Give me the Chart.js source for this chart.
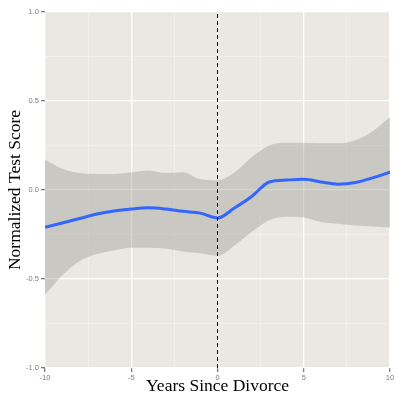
<!DOCTYPE html>
<html>
<head>
<meta charset="utf-8">
<script src="https://cdn.jsdelivr.net/npm/chart.js@4.4.1/dist/chart.umd.min.js"></script>
<style>
  body { margin: 0; background: #ffffff; }
  #wrap { width: 394px; height: 395px; }
</style>
</head>
<body>
<div id="wrap"><canvas id="chart" width="394" height="395"></canvas></div>
<script>
// years relative to divorce
const years = [-10, -9, -8, -7, -6, -5, -4, -3, -2, -1, 0, 1, 2, 3, 4, 5, 6, 7, 8, 9, 10];
// smoothed fit
const fitScore = [-0.21, -0.185, -0.16, -0.135, -0.118, -0.107, -0.10, -0.107, -0.12, -0.13, -0.157,
    -0.10, -0.035, 0.045, 0.056, 0.06, 0.045, 0.033, 0.042, 0.068, 0.10];
// confidence band
const upperBand = [0.17, 0.12, 0.095, 0.09, 0.09, 0.10, 0.11, 0.095, 0.10, 0.06, 0.055,
    0.10, 0.185, 0.25, 0.265, 0.265, 0.262, 0.262, 0.28, 0.33, 0.41];
const lowerBand = [-0.59, -0.48, -0.40, -0.36, -0.34, -0.325, -0.325, -0.33, -0.345, -0.355, -0.37,
    -0.31, -0.235, -0.17, -0.15, -0.155, -0.18, -0.19, -0.20, -0.205, -0.21];
// divorce marker
const divorceYear = 0;
const xTicks = [-10, -5, 0, 5, 10];
const yTicks = [-1.0, -0.5, 0.0, 0.5, 1.0];

const ctx = document.getElementById('chart');

function toPoints(ys) {
    return years.map((x, i) => ({ x: x, y: ys[i] }));
}

function isMajor(list, v) {
    return list.some(t => Math.abs(t - v) < 1e-9);
}

// grey panel behind the plot like ggplot
const panelBg = {
    id: 'panelBg',
    beforeDraw(chart) {
        const a = chart.chartArea;
        const c = chart.ctx;
        c.save();
        c.fillStyle = '#eae8e1';
        c.fillRect(a.left, a.top, a.right - a.left, a.bottom - a.top);
        c.restore();
    }
};

const tickFont = { family: 'Liberation Sans', size: 7.5 };
const titleFont = { family: 'Liberation Serif', size: 17.5, lineHeight: 1 };

new Chart(ctx, {
    type: 'line',
    data: {
        datasets: [{
            label: 'divorce',
            data: [{ x: divorceYear, y: -1 }, { x: divorceYear, y: 1 }],
            borderColor: '#000000',
            borderWidth: 1,
            borderDash: [4, 3],
            pointRadius: 0,
            order: 0
        },
        {
            label: 'fit',
            data: toPoints(fitScore),
            borderColor: '#3366ff',
            borderWidth: 3,
            pointRadius: 0,
            cubicInterpolationMode: 'monotone',
            order: 1
        },
        {
            label: 'upper',
            data: toPoints(upperBand),
            borderWidth: 0,
            pointRadius: 0,
            cubicInterpolationMode: 'monotone',
            backgroundColor: 'rgba(153,153,150,0.4)',
            fill: '+1',
            order: 2
        },
        {
            label: 'lower',
            data: toPoints(lowerBand),
            borderWidth: 0,
            pointRadius: 0,
            cubicInterpolationMode: 'monotone',
            fill: false,
            order: 3
        }]
    },
    options: {
        responsive: false,
        animation: false,
        layout: {
            padding: { top: 12, left: 0, right: 0, bottom: 0 }
        },
        scales: {
            x: {
                type: 'linear',
                min: -10,
                max: 10,
                border: { display: false },
                grid: {
                    color: c => isMajor(xTicks, c.tick.value) ? '#ffffff' : 'rgba(255,255,255,0.55)',
                    lineWidth: c => isMajor(xTicks, c.tick.value) ? 1.3 : 0.6,
                    tickColor: c => isMajor(xTicks, c.tick.value) ? '#7f7f7f' : 'rgba(0,0,0,0)',
                    tickLength: 4
                },
                ticks: {
                    stepSize: 2.5,
                    autoSkip: false,
                    maxRotation: 0,
                    padding: 1,
                    color: '#7f7f7f',
                    font: tickFont,
                    callback: v => isMajor(xTicks, v) ? String(v) : ''
                },
                title: {
                    display: true,
                    text: 'Years Since Divorce',
                    color: '#000000',
                    font: titleFont,
                    padding: 0
                },
                afterFit: scale => {
                    scale.height = 27;
                    scale.paddingRight = 4;
                }
            },
            y: {
                min: -1,
                max: 1,
                border: { display: false },
                grid: {
                    color: c => isMajor(yTicks, c.tick.value) ? '#ffffff' : 'rgba(255,255,255,0.55)',
                    lineWidth: c => isMajor(yTicks, c.tick.value) ? 1.3 : 0.6,
                    tickColor: c => isMajor(yTicks, c.tick.value) ? '#7f7f7f' : 'rgba(0,0,0,0)',
                    tickLength: 4
                },
                ticks: {
                    stepSize: 0.25,
                    autoSkip: false,
                    padding: 2,
                    color: '#7f7f7f',
                    font: tickFont,
                    callback: v => isMajor(yTicks, v) ? v.toFixed(1) : ''
                },
                title: {
                    display: true,
                    text: 'Normalized Test Score',
                    color: '#000000',
                    font: titleFont,
                    padding: { top: 7, bottom: 0 }
                },
                afterFit: scale => { scale.width = 45; }
            }
        },
        plugins: {
            legend: { display: false },
            tooltip: { enabled: false }
        }
    },
    plugins: [panelBg]
});
</script>
</body>
</html>
